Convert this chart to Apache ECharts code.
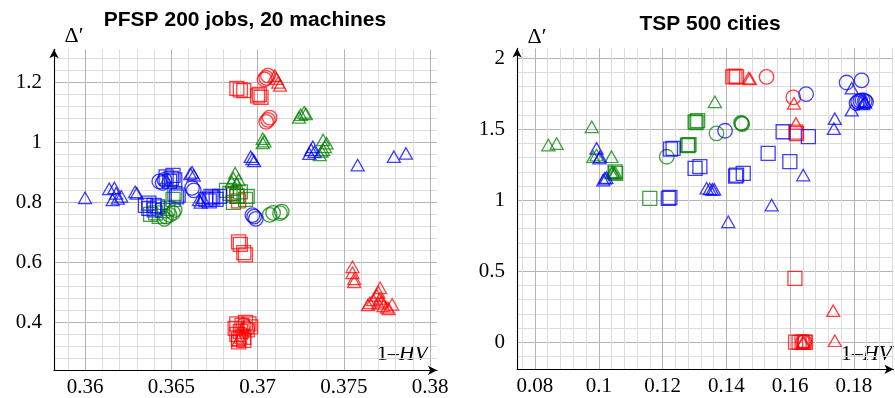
<!DOCTYPE html>
<html><head><meta charset="utf-8">
<script src="https://cdn.jsdelivr.net/npm/echarts@6/dist/echarts.min.js"></script>
<style>html,body{margin:0;padding:0;background:#fff}#c{width:895px;height:398px}</style>
</head><body><div id="c"></div>
<script>
// ---------- texts & tick labels ----------
const pfspTitle = 'PFSP 200 jobs, 20 machines';
const tspTitle = 'TSP 500 cities';
const pfspXTicks = [0.36, 0.365, 0.37, 0.375, 0.38];
const pfspYTicks = [0.4, 0.6, 0.8, 1, 1.2];
const tspXTicks = [0.08, 0.1, 0.12, 0.14, 0.16, 0.18];
const tspYTicks = [0, 0.5, 1, 1.5, 2];

// ---------- PFSP data [1-HV, Delta'] ----------
const pfspRedSquare = [[0.3688,1.18],[0.3690,1.175],[0.3692,1.172],[0.3700,1.155],[0.3702,1.15],[0.3701,1.16],
  [0.3689,0.668],[0.3690,0.66],[0.3692,0.632],[0.3693,0.625],
  [0.3686,0.83],[0.3688,0.82],[0.3689,0.805],
  [0.3687,0.38],[0.3688,0.36],[0.3689,0.345],[0.3690,0.37],[0.3692,0.35],[0.3691,0.39],[0.3693,0.40],[0.3695,0.395],[0.3694,0.375],[0.3689,0.335],[0.3696,0.385],[0.3688,0.395],[0.3692,0.34]];
const pfspRedCircle = [[0.3705,1.215],[0.3706,1.222],[0.3704,1.21],[0.3705,1.068],[0.3706,1.075],[0.3707,1.082],[0.3692,0.39],[0.3694,0.38],[0.3691,0.36]];
const pfspRedTriangle = [[0.3710,1.222],[0.3711,1.212],[0.3712,1.2],[0.3713,1.19],[0.3690,0.35],[0.3689,0.34],
  [0.3755,0.585],[0.3755,0.565],[0.3756,0.545],[0.3756,0.535],[0.3771,0.515],[0.3770,0.50],[0.3769,0.49],[0.3767,0.475],[0.3765,0.465],[0.3764,0.458],[0.3771,0.48],[0.3770,0.463],[0.3773,0.455],[0.3778,0.46],[0.3776,0.445],[0.3775,0.45],[0.3772,0.47]];
const pfspGreenTriangle = [[0.3724,1.083],[0.3725,1.092],[0.3727,1.1],[0.3728,1.095],[0.3703,1.012],[0.3704,1.004],[0.3703,0.998],
  [0.3738,1.008],[0.3740,0.997],[0.3739,0.985],[0.3737,0.97],[0.3736,0.958],[0.3738,0.975],
  [0.3687,0.897],[0.3686,0.88],[0.3685,0.868],[0.3689,0.875],[0.3688,0.862],[0.3647,0.875]];
const pfspGreenSquare = [[0.3682,0.84],[0.3684,0.83],[0.3686,0.80],[0.3688,0.82],[0.3690,0.835],[0.3694,0.82],[0.3693,0.81],[0.3686,0.825],
  [0.3638,0.76],[0.3643,0.753],[0.3641,0.765],[0.3645,0.772],[0.3648,0.78],[0.3652,0.83],[0.3651,0.81]];
const pfspGreenCircle = [[0.3707,0.758],[0.3709,0.765],[0.3714,0.769],[0.3713,0.764],[0.3647,0.752],[0.3649,0.758],[0.3651,0.765],[0.3646,0.745],[0.3652,0.775]];
const pfspBlueTriangle = [[0.3732,0.985],[0.3731,0.975],[0.3733,0.968],[0.3730,0.962],[0.3758,0.924],[0.3779,0.952],[0.3786,0.963],
  [0.3696,0.952],[0.3697,0.945],[0.3698,0.938],[0.3666,0.808],[0.3668,0.815],[0.3667,0.80],[0.3662,0.9],[0.3663,0.89],[0.3661,0.895],
  [0.3600,0.815],[0.3614,0.845],[0.3617,0.848],[0.3616,0.808],[0.3619,0.813],[0.3621,0.82],[0.3618,0.83],[0.3629,0.835],[0.3630,0.83]];
const pfspBlueSquare = [[0.3670,0.81],[0.3672,0.805],[0.3674,0.815],[0.3676,0.81],[0.3678,0.82],[0.3673,0.82],
  [0.3647,0.885],[0.3651,0.89],[0.3649,0.87],[0.3652,0.875],[0.3650,0.88],[0.3654,0.824],[0.3653,0.818],
  [0.3637,0.797],[0.3637,0.78],[0.3640,0.79],[0.3640,0.775],[0.3642,0.785],[0.3635,0.79]];
const pfspBlueCircle = [[0.3698,0.752],[0.3699,0.745],[0.3697,0.757],[0.3662,0.848],[0.3663,0.84],[0.3643,0.87],[0.3645,0.865],[0.3646,0.875]];

// ---------- TSP data [1-HV, Delta'] ----------
const tspRedSquare = [[0.1420,1.87],[0.1427,1.875],[0.1432,1.87],[0.1620,1.47],[0.1618,1.48],[0.1615,0.451],
  [0.1617,0.001],[0.1628,0.0],[0.1637,0.002],[0.1644,0.0],[0.1648,0.001]];
const tspRedCircle = [[0.1526,1.87],[0.1610,1.725],[0.1640,0.0],[0.1645,0.002]];
const tspRedTriangle = [[0.1474,1.855],[0.1470,1.86],[0.1612,1.683],[0.1618,1.542],[0.1735,0.223],[0.1740,0.011],[0.1642,0.005],[0.1640,0.0]];
const tspGreenTriangle = [[0.0842,1.389],[0.0868,1.40],[0.0978,1.518],[0.0993,1.319],[0.0983,1.307],[0.1040,1.307],[0.1040,1.195],[0.1044,1.2],[0.1048,1.19],[0.1052,1.195],[0.1364,1.694]];
const tspGreenSquare = [[0.1051,1.20],[0.1053,1.19],[0.1302,1.553],[0.1310,1.562],[0.1305,1.548],[0.1278,1.389],[0.1283,1.392],[0.1280,1.385],[0.1160,1.014]];
const tspGreenCircle = [[0.1448,1.542],[0.1450,1.537],[0.1446,1.545],[0.1369,1.472],[0.1213,1.307]];
const tspBlueSquare = [[0.1578,1.483],[0.1657,1.448],[0.1531,1.331],[0.1599,1.272],[0.1453,1.19],[0.1432,1.178],[0.1429,1.17],[0.1317,1.237],[0.1302,1.225],[0.1233,1.366],[0.1225,1.36],[0.1218,1.014],[0.1223,1.02]];
const tspBlueCircle = [[0.1650,1.748],[0.1777,1.83],[0.1824,1.845],[0.1813,1.695],[0.1820,1.70],[0.1827,1.705],[0.1834,1.70],[0.1808,1.685],[0.1838,1.693],[0.1396,1.49]];
const tspBlueTriangle = [[0.1793,1.79],[0.1793,1.635],[0.1832,1.695],[0.1835,1.69],[0.1829,1.68],[0.1740,1.575],[0.1737,1.505],
  [0.1338,1.085],[0.1348,1.08],[0.1356,1.077],[0.1362,1.077],[0.1641,1.178],[0.1542,0.967],[0.1406,0.849],
  [0.0993,1.366],[0.1004,1.307],[0.1002,1.298],[0.1019,1.155],[0.1014,1.143],[0.1024,1.16]];

// ---------- styling helpers ----------
const RED = '#ff0000', GREEN = '#008000', BLUE = '#0000ff';
const MAJOR = '#b4b4b4', MINOR = '#dcdcdc', NONE = 'rgba(0,0,0,0)';
const SERIF = '"Liberation Serif", "DejaVu Serif", serif';
const SANS = '"Liberation Sans", Arial, sans-serif';

function near(v, step) { const r = v / step; return Math.abs(r - Math.round(r)) < 1e-6; }
function gridColors(min, max, step, minor, major) {
  const n = Math.round((max - min) / step) + 2;
  const out = [];
  for (let k = 0; k < n; k++) {
    const v = min + k * step;
    out.push(near(v, major) ? MAJOR : (near(v, minor) ? MINOR : NONE));
  }
  return out;
}
function labelFmt(ticks) {
  return v => { for (const t of ticks) if (Math.abs(v - t) < 1e-7) return String(t); return ''; };
}
function valueAxis(gi, min, max, step, minor, major, ticks, isX) {
  return {
    type: 'value', gridIndex: gi, min: min, max: max, interval: step,
    axisLine: { show: true, onZero: false, symbol: ['none', 'arrow'], symbolSize: [7, 9],
      lineStyle: { color: '#000', width: 1.1 } },
    axisTick: { show: false },
    splitLine: { show: true, showMaxLine: false, lineStyle: { color: gridColors(min, max, step, minor, major), width: 1 } },
    axisLabel: { formatter: labelFmt(ticks), margin: isX ? 7 : 12, color: '#000',
      fontFamily: SERIF, fontSize: 21 }
  };
}
function sc(data, gi, symbol, size, color) {
  return { type: 'scatter', xAxisIndex: gi, yAxisIndex: gi, data: data, symbol: symbol, symbolSize: size,
    silent: true, animation: false,
    itemStyle: { color: NONE, borderColor: color, borderWidth: 1.3, opacity: 0.75 } };
}
const CIR = 14.5, SQ = 14, TRI = [13, 11.5];

const chart = echarts.init(document.getElementById('c'), null, { renderer: 'canvas' });
chart.setOption({
  backgroundColor: '#fff',
  animation: false,
  grid: [
    { left: 54, top: 49.3, width: 383, height: 321, outerBoundsMode: 'none' },
    { left: 517.1, top: 48.4, width: 376.4, height: 320.9, outerBoundsMode: 'none' }
  ],
  xAxis: [
    valueAxis(0, 0.3582, 0.3804, 0.0002, 0.001, 0.005, pfspXTicks, true),
    valueAxis(1, 0.0744, 0.1924, 0.0004, 0.004, 0.02, tspXTicks, true)
  ],
  yAxis: [
    valueAxis(0, 0.24, 1.31, 0.04, 0.04, 0.2, pfspYTicks, false),
    valueAxis(1, -0.19, 2.07, 0.01, 0.1, 0.5, tspYTicks, false)
  ],
  series: [
    sc(pfspRedSquare, 0, 'rect', SQ, RED),
    sc(pfspRedCircle, 0, 'circle', CIR, RED),
    sc(pfspRedTriangle, 0, 'triangle', TRI, RED),
    sc(pfspGreenSquare, 0, 'rect', SQ, GREEN),
    sc(pfspGreenCircle, 0, 'circle', CIR, GREEN),
    sc(pfspGreenTriangle, 0, 'triangle', TRI, GREEN),
    sc(pfspBlueSquare, 0, 'rect', SQ, BLUE),
    sc(pfspBlueCircle, 0, 'circle', CIR, BLUE),
    sc(pfspBlueTriangle, 0, 'triangle', TRI, BLUE),
    sc(tspRedSquare, 1, 'rect', SQ, RED),
    sc(tspRedCircle, 1, 'circle', CIR, RED),
    sc(tspRedTriangle, 1, 'triangle', TRI, RED),
    sc(tspGreenSquare, 1, 'rect', SQ, GREEN),
    sc(tspGreenCircle, 1, 'circle', CIR, GREEN),
    sc(tspGreenTriangle, 1, 'triangle', TRI, GREEN),
    sc(tspBlueSquare, 1, 'rect', SQ, BLUE),
    sc(tspBlueCircle, 1, 'circle', CIR, BLUE),
    sc(tspBlueTriangle, 1, 'triangle', TRI, BLUE)
  ],
  graphic: [
    { type: 'text', x: 245, y: 20, style: { text: pfspTitle, fontFamily: SANS, fontWeight: 'bold', fontSize: 21, fill: '#000', align: 'center', verticalAlign: 'middle' } },
    { type: 'text', x: 710, y: 24, style: { text: tspTitle, fontFamily: SANS, fontWeight: 'bold', fontSize: 21, fill: '#000', align: 'center', verticalAlign: 'middle' } },
    { type: 'text', x: 74, y: 36, style: { text: 'Δ′', fontFamily: SERIF, fontSize: 22, fill: '#000', align: 'center', verticalAlign: 'middle' } },
    { type: 'text', x: 537, y: 37, style: { text: 'Δ′', fontFamily: SERIF, fontSize: 22, fill: '#000', align: 'center', verticalAlign: 'middle' } },
    { type: 'text', x: 428, y: 354, style: { text: '1–{i|HV}', fontFamily: SERIF, fontSize: 22, fill: '#000', align: 'right', verticalAlign: 'middle',
      rich: { i: { fontFamily: SERIF, fontStyle: 'italic', fontSize: 22, fill: '#000' } } } },
    { type: 'text', x: 892, y: 354, style: { text: '1–{i|HV}', fontFamily: SERIF, fontSize: 22, fill: '#000', align: 'right', verticalAlign: 'middle',
      rich: { i: { fontFamily: SERIF, fontStyle: 'italic', fontSize: 22, fill: '#000' } } } }
  ]
});
</script>
</body></html>
